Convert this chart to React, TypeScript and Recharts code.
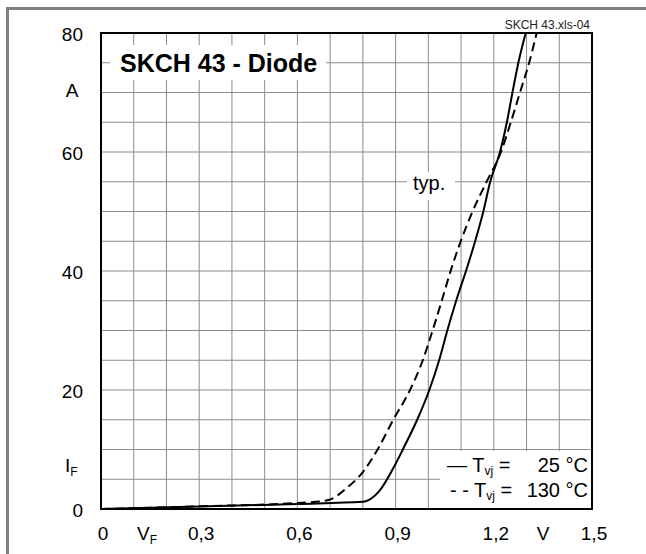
import React from "react";
import {
  LineChart,
  Line,
  XAxis,
  YAxis,
  CartesianGrid,
  ReferenceArea,
} from "recharts";

// forward voltage (V) / forward current (A), Tvj = 25 °C
const vf25 = [0, 0.3, 0.6, 0.8, 0.85, 0.9, 0.922, 0.966, 1.003, 1.033, 1.058, 1.085, 1.115, 1.143, 1.168, 1.189, 1.219, 1.24, 1.257, 1.275, 1.2975];
const if25 = [0, 0.4, 0.85, 1.2, 3.0, 7.6, 10, 15, 20, 25, 30, 35, 40, 45, 50, 55, 60, 65, 70, 75, 80];

// Tvj = 130 °C
const vf130 = [0, 0.3, 0.6, 0.655, 0.7, 0.75, 0.8, 0.845, 0.893, 0.944, 0.983, 1.013, 1.041, 1.068, 1.099, 1.135, 1.178, 1.222, 1.252, 1.28, 1.308, 1.331];
const if130 = [0, 0.45, 1.0, 1.2, 1.6, 3.5, 6.2, 10, 15, 20, 25, 30, 35, 40, 45, 50, 55, 60, 65, 70, 75, 80];

const xGridTicks = [0, 0.1, 0.2, 0.3, 0.4, 0.5, 0.6, 0.7, 0.8, 0.9, 1.0, 1.1, 1.2, 1.3, 1.4, 1.5];
const xLabelTicks = [0, 0.3, 0.6, 0.9, 1.2, 1.5];
const yGridTicks = [0, 5, 10, 15, 20, 25, 30, 35, 40, 45, 50, 55, 60, 65, 70, 75, 80];
const yLabelTicks = [0, 20, 40, 60, 80];

const FONT = '"Liberation Sans", Arial, sans-serif';

const data25 = vf25.map((v, i) => ({ v, i: if25[i] }));
const data130 = vf130.map((v, i) => ({ v, i: if130[i] }));

const fmt = (v: number) => (v === 0 ? "0" : v.toFixed(1).replace(".", ","));

const XTick = ({ x, y, payload }: any) => {
  const show = xLabelTicks.some((t) => Math.abs(t - payload.value) < 1e-6);
  if (!show) return <g />;
  return (
    <text x={x + 2} y={y + 23} textAnchor="middle" fontSize={19} fontFamily={FONT} fill="#000">
      {fmt(payload.value)}
    </text>
  );
};

const YTick = ({ x, y, payload }: any) => {
  if (!yLabelTicks.includes(payload.value)) return <g />;
  return (
    <text x={x} y={y + 8} textAnchor="end" fontSize={19} fontFamily={FONT} fill="#000">
      {payload.value}
    </text>
  );
};

const App = () => {
  return (
    <div style={{ position: "absolute", left: 0, top: 0, width: 646, height: 554, background: "#fff" }}>
      <div
        style={{
          position: "absolute",
          left: 6,
          top: 7,
          right: 0,
          bottom: 0,
          borderLeft: "3px solid #808080",
          borderTop: "3px solid #808080",
        }}
      />
      <div style={{ position: "absolute", left: 0, top: 0 }}>
        <LineChart width={646} height={554} margin={{ top: 33, right: 54, bottom: 0, left: 0 }}>
          <CartesianGrid stroke="#8c8c8c" strokeWidth={1} />
          <XAxis
            type="number"
            dataKey="v"
            domain={[0, 1.5]}
            ticks={xGridTicks}
            interval={0}
            height={45}
            tick={<XTick />}
            tickLine={false}
            axisLine={false}
            allowDataOverflow
          />
          <YAxis
            type="number"
            dataKey="i"
            domain={[0, 80]}
            ticks={yGridTicks}
            interval={0}
            width={101}
            tickMargin={12}
            tick={<YTick />}
            tickLine={false}
            axisLine={false}
            allowDataOverflow
          />
          <Line
            data={data25}
            dataKey="i"
            type="monotoneX"
            stroke="#000"
            strokeWidth={2}
            dot={false}
            isAnimationActive={false}
          />
          <Line
            data={data130}
            dataKey="i"
            type="monotoneX"
            stroke="#000"
            strokeWidth={2}
            strokeDasharray="9 5"
            dot={false}
            isAnimationActive={false}
          />
          <ReferenceArea x1={0} x2={1.5} y1={0} y2={80} fill="none" stroke="#000" strokeWidth={2} />
        </LineChart>
      </div>
      <svg
        width={646}
        height={554}
        style={{ position: "absolute", left: 0, top: 0, pointerEvents: "none" }}
        fontFamily={FONT}
      >
        <text x={590} y={29} textAnchor="end" fontSize={12} fill="#222">SKCH 43.xls-04</text>

        <rect x={110} y={45} width={216} height={35} fill="#fff" />
        <text x={120} y={72} fontSize={25} fontWeight="bold" fill="#000">SKCH 43 - Diode</text>

        <rect x={407} y={172} width={48} height={28} fill="#fff" />
        <text x={413} y={190} fontSize={20} fill="#000">typ.</text>

        <text x={72} y={97} textAnchor="middle" fontSize={19} fill="#000">A</text>
        <text x={65} y={472} fontSize={19} fill="#000">
          I<tspan fontSize={12} dy={4}>F</tspan>
        </text>

        <text x={137} y={540} fontSize={19} fill="#000">
          V<tspan fontSize={12} dy={4}>F</tspan>
        </text>
        <text x={543} y={540} textAnchor="middle" fontSize={19} fill="#000">V</text>

        <rect x={440} y={451} width={151} height={57} fill="#fff" />
        <text x={447} y={472} fontSize={20} fill="#000">
          — T<tspan fontSize={12} dy={3}>vj</tspan>
          <tspan dy={-3}> =</tspan>
        </text>
        <text x={588} y={472} textAnchor="end" fontSize={20} fill="#000">25 °C</text>
        <text x={450} y={497} fontSize={20} fill="#000">
          - - T<tspan fontSize={12} dy={3}>vj</tspan>
          <tspan dy={-3}> =</tspan>
        </text>
        <text x={588} y={497} textAnchor="end" fontSize={20} fill="#000">130 °C</text>
      </svg>
    </div>
  );
};

export default App;
